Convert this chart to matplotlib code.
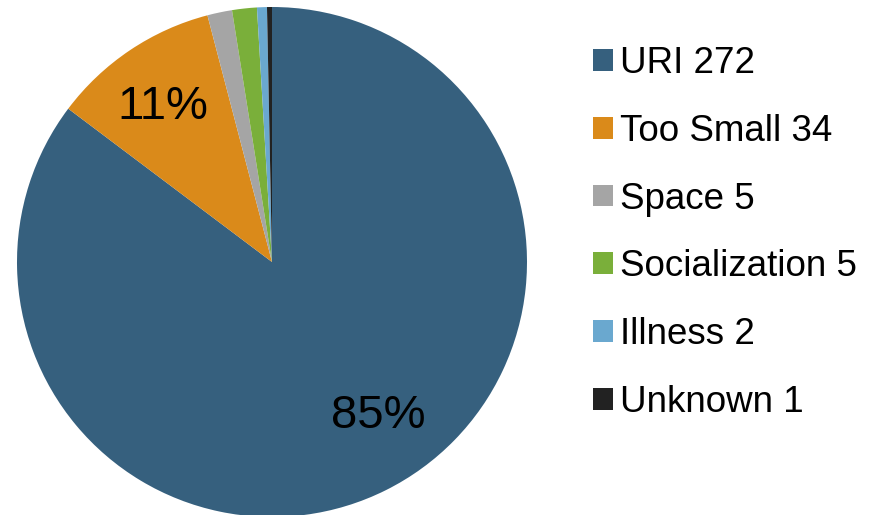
import matplotlib
matplotlib.use("Agg")
import matplotlib.pyplot as plt
from matplotlib.patches import Patch
import numpy as np

plt.rcParams['font.family'] = ['Liberation Sans', 'DejaVu Sans']

categories = ["URI", "Too Small", "Space", "Socialization", "Illness", "Unknown"]
counts = [272, 34, 5, 5, 2, 1]
colors = ["#36607E", "#DA8A1A", "#A5A5A5", "#7AAF3A", "#6AA8CF", "#222222"]
legend_labels = [f"{c} {n}" for c, n in zip(categories, counts)]

W, H = 881, 515
fig = plt.figure(figsize=(W/100, H/100), dpi=100)
cx, cy, R = 272, 262, 255
ax = fig.add_axes([(cx-R)/W, (H-cy-R)/H, 2*R/W, 2*R/H])

wedges, texts, autotexts = ax.pie(
    counts, colors=colors, startangle=90, counterclock=False,
    autopct=lambda p: f"{p:.0f}%" if p > 5 else "",
    pctdistance=0.75, wedgeprops=dict(linewidth=0),
    textprops=dict(fontsize=34, color="black"))
ax.set_xlim(-1, 1)
ax.set_ylim(-1, 1)
ax.set_aspect('equal')

# Excel-like label placement
label_pos = {0: (-55.5, 0.735), 1: (125.2, 0.745)}
for i, (ang, d) in label_pos.items():
    a = np.deg2rad(ang)
    autotexts[i].set_position((d*np.cos(a), d*np.sin(a)))

handles = [Patch(facecolor=c, edgecolor='none') for c in colors]
leg = fig.legend(handles, legend_labels, loc='upper left',
                 bbox_to_anchor=(593/W, 1 - 46/H), frameon=False,
                 fontsize=26.5, handlelength=0.54, handleheight=0.54,
                 handletextpad=0.2, labelspacing=0.89, borderpad=0,
                 borderaxespad=0)

fig.savefig("out.png", dpi=100)
